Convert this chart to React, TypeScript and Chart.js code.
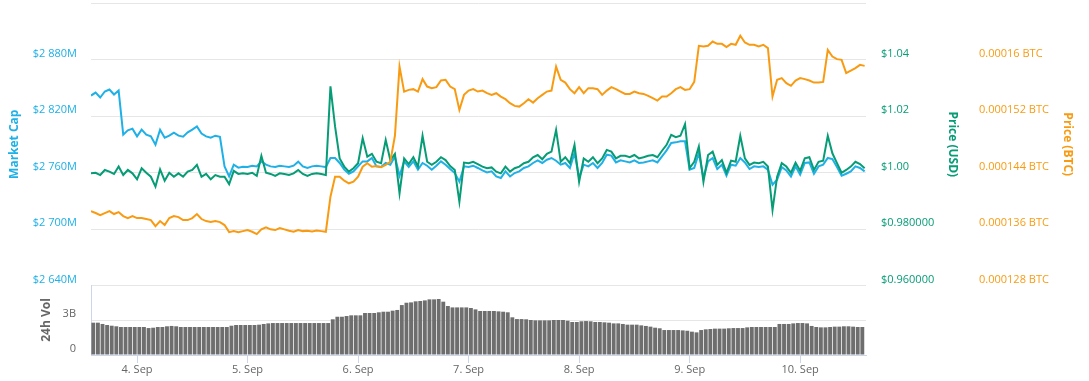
import React, { useEffect, useRef } from 'react';
import { Chart, registerables } from 'chart.js';

Chart.register(...registerables);

const FONT = "'Open Sans', 'DejaVu Sans', sans-serif";
const BLUE = '#1eb0e6';
const GREEN = '#069c76';
const ORANGE = '#f99b12';
const GRAY_TEXT = '#666666';
const GRID = '#e6e6e6';
const AXIS_LINE = '#ccd6eb';
const BAR = '#6e6e6e';

// x axis: hours since 3 Sep 14:00
const xMaxHours = 168.3;
const dayTickHours = [10, 34, 58, 82, 106, 130, 154];
const dayTickLabels = ['4. Sep', '5. Sep', '6. Sep', '7. Sep', '8. Sep', '9. Sep', '10. Sep'];

const marketCapTicks = [2640, 2700, 2760, 2820, 2880, 2940];
const marketCapTickLabels = ['$2 640M', '$2 700M', '$2 760M', '$2 820M', '$2 880M', ''];
const usdTicks = [0.96, 0.98, 1.0, 1.02, 1.04, 1.06];
const usdTickLabels = ['$0.960000', '$0.980000', '$1.00', '$1.02', '$1.04', ''];
const btcTicks = [128, 136, 144, 152, 160, 168]; // in 1e-6 BTC
const btcTickLabels = ['0.000128 BTC', '0.000136 BTC', '0.000144 BTC', '0.000152 BTC', '0.00016 BTC', ''];
const volTicks = [0, 3, 6]; // billions USD
const volTickLabels = ['0', '3B', ''];

// hourly market cap, millions USD
const marketCap = [
  2841.7, 2844.9, 2839.6, 2846.0, 2848.1, 2842.8, 2847.0, 2800.2, 2804.8, 2806.6,
  2798.4, 2805.5, 2800.2, 2798.4, 2789.6, 2805.5, 2797.0, 2799.1, 2802.3, 2799.1,
  2798.1, 2802.6, 2805.5, 2809.0, 2801.3, 2798.4, 2797.0, 2799.1, 2797.8, 2766.5,
  2755.8, 2768.3, 2765.1, 2766.2, 2765.8, 2767.2, 2766.5, 2771.8, 2768.3, 2766.5,
  2765.8, 2767.2, 2766.5, 2765.8, 2767.2, 2771.5, 2766.5, 2764.8, 2766.5, 2767.2,
  2766.5, 2765.8, 2775.4, 2775.4, 2770.1, 2763.0, 2758.7, 2761.2, 2766.5, 2771.8,
  2771.8, 2775.4, 2766.5, 2765.8, 2770.1, 2768.3, 2777.1, 2756.6, 2771.8, 2765.8,
  2771.8, 2763.0, 2770.1, 2767.2, 2763.0, 2767.2, 2771.8, 2768.3, 2763.7, 2759.4,
  2750.2, 2766.5, 2765.8, 2767.2, 2764.8, 2762.2, 2760.1, 2761.2, 2755.8, 2754.1,
  2761.2, 2755.8, 2759.4, 2761.2, 2764.8, 2766.5, 2770.1, 2772.9, 2770.1, 2773.6,
  2775.4, 2772.5, 2768.3, 2770.1, 2764.8, 2780.7, 2754.4, 2768.3, 2766.5, 2770.1,
  2764.8, 2770.1, 2778.9, 2777.9, 2770.7, 2772.9, 2771.8, 2770.7, 2772.9, 2770.1,
  2770.7, 2771.8, 2772.9, 2770.7, 2777.1, 2783.5, 2791.4, 2792.0, 2793.1, 2793.1,
  2763.0, 2764.8, 2780.7, 2754.4, 2771.8, 2775.4, 2763.7, 2768.3, 2756.6, 2768.3,
  2767.2, 2775.4, 2770.7, 2763.7, 2766.5, 2765.8, 2766.5, 2763.0, 2747.0, 2752.3,
  2765.8, 2762.2, 2755.8, 2766.5, 2757.6, 2770.1, 2770.7, 2758.7, 2766.5, 2768.3,
  2775.4, 2774.3, 2765.8, 2756.6, 2758.7, 2761.2, 2766.5, 2764.8, 2761.2,
];

// hourly price, USD
const priceUsd = [
  0.9997, 0.9999, 0.9991, 1.0009, 1.0003, 0.9995, 1.0021, 0.9991, 1.0009, 0.9997,
  0.9976, 1.0015, 0.9999, 0.9985, 0.9950, 1.0011, 0.9971, 0.9999, 0.9985, 0.9997,
  0.9985, 1.0003, 1.0009, 1.0027, 0.9985, 0.9995, 0.9976, 0.9991, 0.9985, 0.9985,
  0.9959, 1.0006, 0.9995, 0.9997, 0.9995, 0.9999, 0.9988, 1.0059, 0.9999, 0.9995,
  0.9988, 0.9997, 0.9995, 0.9991, 0.9997, 1.0009, 0.9995, 0.9988, 0.9995, 0.9997,
  0.9995, 0.9991, 1.0305, 1.0163, 1.0050, 1.0021, 1.0003, 1.0015, 1.0033, 1.0121,
  1.0056, 1.0066, 1.0038, 1.0033, 1.0115, 1.0044, 1.0066, 0.9926, 1.0050, 1.0030,
  1.0054, 1.0021, 1.0130, 1.0038, 1.0027, 1.0038, 1.0054, 1.0044, 1.0023, 1.0009,
  0.9896, 1.0035, 1.0033, 1.0038, 1.0030, 1.0021, 1.0015, 1.0018, 1.0003, 0.9997,
  1.0021, 1.0003, 1.0015, 1.0021, 1.0033, 1.0038, 1.0054, 1.0062, 1.0047, 1.0066,
  1.0074, 1.0151, 1.0038, 1.0054, 1.0033, 1.0098, 0.9967, 1.0050, 1.0038, 1.0054,
  1.0033, 1.0050, 1.0080, 1.0074, 1.0050, 1.0059, 1.0059, 1.0054, 1.0062, 1.0050,
  1.0054, 1.0059, 1.0062, 1.0054, 1.0077, 1.0098, 1.0133, 1.0125, 1.0130, 1.0171,
  1.0016, 1.0038, 1.0092, 0.9967, 1.0062, 1.0074, 1.0027, 1.0044, 0.9999, 1.0042,
  1.0038, 1.0130, 1.0050, 1.0027, 1.0035, 1.0033, 1.0038, 1.0021, 0.9867, 0.9985,
  1.0033, 1.0021, 0.9999, 1.0035, 1.0006, 1.0050, 1.0054, 1.0009, 1.0038, 1.0042,
  1.0130, 1.0068, 1.0033, 0.9999, 1.0009, 1.0021, 1.0038, 1.0030, 1.0015,
];

// hourly price, in 1e-6 BTC
const priceBtcMicro = [
  138.54, 138.26, 137.97, 138.26, 138.54, 138.12, 138.40, 137.83, 137.55, 137.83,
  137.55, 137.55, 137.41, 137.26, 136.41, 137.12, 136.56, 137.55, 137.83, 137.69,
  137.26, 137.26, 137.55, 138.12, 137.41, 137.12, 136.98, 137.12, 136.98, 136.56,
  135.56, 135.70, 135.56, 135.70, 135.85, 135.61, 135.28, 135.95, 136.23, 135.95,
  135.85, 136.13, 135.95, 135.75, 135.61, 135.85, 135.70, 135.75, 135.66, 135.80,
  135.70, 135.61, 140.57, 143.40, 143.40, 142.84, 142.47, 142.70, 143.40, 144.82,
  145.30, 144.82, 144.92, 144.74, 145.06, 145.53, 149.20, 159.00, 155.46, 155.70,
  155.80, 155.46, 157.22, 156.17, 155.94, 156.08, 157.02, 157.12, 156.17, 155.80,
  152.86, 154.99, 155.60, 155.80, 155.46, 155.60, 155.23, 154.99, 155.23, 154.75,
  154.38, 153.81, 153.43, 153.33, 153.81, 154.38, 153.90, 154.52, 154.99, 155.46,
  155.60, 159.00, 157.12, 156.73, 155.80, 155.23, 156.08, 155.23, 155.94, 155.94,
  155.80, 154.99, 155.60, 156.08, 155.80, 155.46, 155.13, 155.13, 155.46, 155.23,
  155.13, 154.85, 154.52, 154.18, 154.75, 154.75, 155.23, 155.80, 156.08, 155.70,
  155.80, 156.83, 161.94, 161.84, 161.94, 162.55, 162.22, 162.22, 161.75, 162.22,
  162.08, 163.36, 162.41, 162.08, 162.08, 161.84, 162.08, 161.61, 154.75, 157.12,
  157.36, 156.65, 156.27, 157.02, 157.36, 157.22, 157.02, 156.73, 156.73, 156.83,
  161.37, 160.42, 160.05, 159.95, 158.07, 158.44, 158.78, 159.24, 159.10,
];

// hourly 24h volume, billions USD (one bar per hour, centred on the half hour)
const volume24h = [
  2.77, 2.77, 2.66, 2.57, 2.51, 2.46, 2.40, 2.40, 2.40, 2.40,
  2.40, 2.40, 2.31, 2.34, 2.40, 2.40, 2.46, 2.49, 2.46, 2.40,
  2.40, 2.40, 2.40, 2.40, 2.40, 2.40, 2.40, 2.40, 2.40, 2.40,
  2.51, 2.57, 2.57, 2.57, 2.57, 2.57, 2.60, 2.66, 2.71, 2.74,
  2.74, 2.74, 2.74, 2.74, 2.74, 2.74, 2.74, 2.74, 2.74, 2.74,
  2.74, 2.74, 3.06, 3.28, 3.28, 3.34, 3.40, 3.40, 3.40, 3.60,
  3.60, 3.60, 3.66, 3.71, 3.71, 3.80, 3.86, 4.28, 4.48, 4.51,
  4.60, 4.63, 4.68, 4.77, 4.77, 4.80, 4.57, 4.20, 4.08, 4.08,
  4.08, 4.08, 4.03, 3.91, 3.77, 3.77, 3.77, 3.77, 3.74, 3.71,
  3.66, 3.23, 3.08, 3.08, 3.06, 3.00, 2.97, 2.97, 2.97, 2.97,
  3.00, 3.00, 3.00, 2.94, 2.83, 2.83, 2.89, 2.91, 2.89, 2.83,
  2.83, 2.80, 2.77, 2.71, 2.71, 2.66, 2.60, 2.60, 2.60, 2.54,
  2.49, 2.43, 2.34, 2.29, 2.14, 2.14, 2.14, 2.14, 2.11, 2.08,
  2.00, 1.94, 2.14, 2.20, 2.23, 2.26, 2.26, 2.26, 2.29, 2.31,
  2.31, 2.31, 2.37, 2.40, 2.40, 2.40, 2.40, 2.40, 2.40, 2.66,
  2.66, 2.66, 2.71, 2.74, 2.74, 2.71, 2.49, 2.40, 2.37, 2.37,
  2.40, 2.43, 2.43, 2.46, 2.46, 2.43, 2.40, 2.40,
];

const tickFont = { family: FONT, size: 11 };
const titleFont = { family: FONT, size: 12, weight: 'bold' as const };

const fixWidth = (w: number) => (s: any) => {
  s.width = w;
  s.paddingTop = 0;
  s.paddingBottom = 0;
};

export default function App() {
  const mainRef = useRef<HTMLCanvasElement | null>(null);
  const volRef = useRef<HTMLCanvasElement | null>(null);

  useEffect(() => {
    if (!mainRef.current || !volRef.current) return;

    const lineDs = (label: string, values: number[], axis: string, color: string) => ({
      label,
      data: values.map((v, i) => ({ x: i, y: v })),
      yAxisID: axis,
      borderColor: color,
      backgroundColor: color,
      borderWidth: 2,
      pointRadius: 0,
      tension: 0,
      fill: false,
    });

    const main = new Chart(mainRef.current, {
      type: 'line',
      data: {
        datasets: [
          lineDs('Price (BTC)', priceBtcMicro, 'btc', ORANGE),
          lineDs('Price (USD)', priceUsd, 'usd', GREEN),
          lineDs('Market Cap', marketCap, 'mc', BLUE),
        ],
      },
      options: {
        animation: false,
        responsive: false,
        events: [],
        layout: { padding: { top: 3, bottom: 4.5, left: 0, right: 0 } },
        plugins: { legend: { display: false }, tooltip: { enabled: false } },
        scales: {
          x: { type: 'linear', min: 0, max: xMaxHours, display: false },
          mc: {
            type: 'linear',
            position: 'left',
            min: marketCapTicks[0],
            max: marketCapTicks[marketCapTicks.length - 1],
            afterBuildTicks: (s: any) => { s.ticks = marketCapTicks.map((v) => ({ value: v })); },
            afterFit: fixWidth(91),
            grid: { color: GRID, drawTicks: false, lineWidth: 1 },
            border: { display: false },
            ticks: {
              color: BLUE, font: tickFont, padding: 14, labelOffset: -6,
              callback: (_v: any, i: number) => marketCapTickLabels[i],
            },
            title: { display: true, text: 'Market Cap', color: BLUE, font: titleFont, padding: { top: 7.8, bottom: 0 } },
          },
          usd: {
            type: 'linear',
            position: 'right',
            min: usdTicks[0],
            max: usdTicks[usdTicks.length - 1],
            afterBuildTicks: (s: any) => { s.ticks = usdTicks.map((v) => ({ value: v })); },
            afterFit: fixWidth(98),
            grid: { display: false, drawTicks: false },
            border: { display: false },
            ticks: {
              color: GREEN, font: tickFont, padding: 15, labelOffset: -6,
              callback: (_v: any, i: number) => usdTickLabels[i],
            },
            title: { display: true, text: 'Price (USD)', color: GREEN, font: titleFont, padding: { top: 4.1, bottom: 0 } },
          },
          btc: {
            type: 'linear',
            position: 'right',
            min: btcTicks[0],
            max: btcTicks[btcTicks.length - 1],
            afterBuildTicks: (s: any) => { s.ticks = btcTicks.map((v) => ({ value: v })); },
            afterFit: fixWidth(125),
            grid: { display: false, drawTicks: false },
            border: { display: false },
            ticks: {
              color: ORANGE, font: tickFont, padding: 15, labelOffset: -6,
              callback: (_v: any, i: number) => btcTickLabels[i],
            },
            title: { display: true, text: 'Price (BTC)', color: ORANGE, font: titleFont, padding: { top: 14.1, bottom: 0 } },
          },
        },
      } as any,
    });

    const vol = new Chart(volRef.current, {
      type: 'bar',
      data: {
        datasets: [
          {
            label: '24h Vol',
            data: volume24h.map((v, i) => ({ x: i + 0.5, y: v })),
            backgroundColor: BAR,
            borderWidth: 0,
            barPercentage: 1,
            categoryPercentage: 0.84,
          },
        ],
      },
      options: {
        animation: false,
        responsive: false,
        events: [],
        layout: { padding: { top: 5, right: 223, left: 0, bottom: 0 } },
        plugins: { legend: { display: false }, tooltip: { enabled: false } },
        scales: {
          x: {
            type: 'linear',
            min: 0,
            max: xMaxHours,
            offset: false,
            afterBuildTicks: (s: any) => { s.ticks = dayTickHours.map((v) => ({ value: v })); },
            afterFit: (s: any) => { s.height = 26; s.paddingLeft = 0; s.paddingRight = 0; },
            grid: { display: true, drawOnChartArea: false, drawTicks: true, tickLength: 8, color: AXIS_LINE, offset: false },
            border: { display: true, color: AXIS_LINE },
            ticks: {
              color: GRAY_TEXT, font: tickFont, padding: 0, maxRotation: 0, autoSkip: false,
              callback: (_v: any, i: number) => dayTickLabels[i],
            },
          },
          y: {
            type: 'linear',
            position: 'left',
            min: volTicks[0],
            max: volTicks[volTicks.length - 1],
            afterBuildTicks: (s: any) => { s.ticks = volTicks.map((v) => ({ value: v })); },
            afterFit: fixWidth(91),
            grid: { color: GRID, drawTicks: false },
            border: { display: true, color: AXIS_LINE },
            ticks: {
              color: GRAY_TEXT, font: tickFont, padding: 15, labelOffset: -6,
              callback: (_v: any, i: number) => volTickLabels[i],
            },
            title: { display: true, text: '24h Vol', color: GRAY_TEXT, font: titleFont, padding: { top: 39.8, bottom: 0 } },
          },
        },
      } as any,
    });

    return () => {
      main.destroy();
      vol.destroy();
    };
  }, []);

  return (
    <div style={{ position: 'absolute', left: 0, top: 0, width: 1089, height: 381, background: '#ffffff', overflow: 'hidden' }}>
      <canvas ref={mainRef} width={1089} height={290} style={{ position: 'absolute', left: 0, top: 0, display: 'block' }} />
      <canvas ref={volRef} width={1089} height={101} style={{ position: 'absolute', left: 0, top: 280, display: 'block' }} />
    </div>
  );
}
